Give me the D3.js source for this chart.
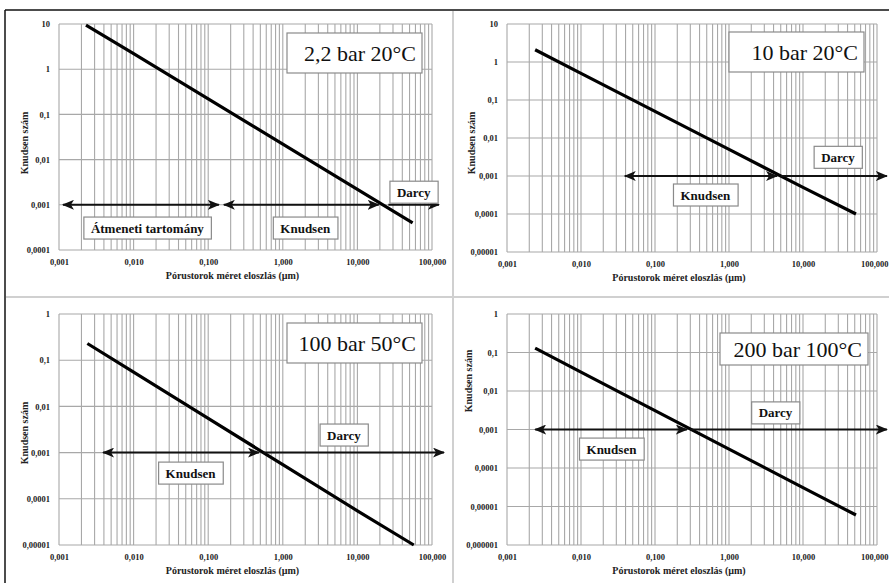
<!DOCTYPE html>
<html><head><meta charset="utf-8">
<script src="https://cdn.jsdelivr.net/npm/d3@7"></script>
<style>
body{margin:0;background:#fff;}
svg{display:block;}
svg text{font-family:"Liberation Serif","DejaVu Serif",serif;}
</style></head>
<body><svg id="chart" width="889" height="583"></svg>
<script>
// ---------- DATA ----------
const xTickValues = [0.001, 0.01, 0.1, 1, 10, 100];
const xTickLabels = ["0,001", "0,010", "0,100", "1,000", "10,000", "100,000"];
const xAxisTitle = "Pórustorok méret eloszlás  (µm)";
const yAxisTitle = "Knudsen szám";

const titles = ["2,2 bar 20°C", "10 bar 20°C", "100 bar 50°C", "200 bar 100°C"];

const yDomain1 = [0.0001, 10];
const yDomain2 = [0.00001, 10];
const yDomain3 = [0.00001, 1];
const yDomain4 = [0.000001, 1];

const yTicks1 = [10, 1, 0.1, 0.01, 0.001, 0.0001];
const yTickLabels1 = ["10", "1", "0,1", "0,01", "0,001", "0,0001"];
const yTicks2 = [10, 1, 0.1, 0.01, 0.001, 0.0001, 0.00001];
const yTickLabels2 = ["10", "1", "0,1", "0,01", "0,001", "0,0001", "0,00001"];
const yTicks3 = [1, 0.1, 0.01, 0.001, 0.0001, 0.00001];
const yTickLabels3 = ["1", "0,1", "0,01", "0,001", "0,0001", "0,00001"];
const yTicks4 = [1, 0.1, 0.01, 0.001, 0.0001, 0.00001, 0.000001];
const yTickLabels4 = ["1", "0,1", "0,01", "0,001", "0,0001", "0,00001", "0,000001"];

// Knudsen number vs pore size
const poreSize1 = [0.0023, 0.01, 0.1, 1, 10, 55];
const knudsen1  = [9.5, 2.2, 0.22, 0.022, 0.0022, 0.0004];
const poreSize2 = [0.0024, 0.01, 0.1, 1, 10, 52];
const knudsen2  = [2.1, 0.5, 0.05, 0.005, 0.0005, 0.0001];
const poreSize3 = [0.0024, 0.01, 0.1, 1, 10, 57];
const knudsen3  = [0.23, 0.055, 0.0055, 0.00055, 0.000055, 0.00001];
const poreSize4 = [0.0024, 0.01, 0.1, 1, 10, 52];
const knudsen4  = [0.13, 0.031, 0.0031, 0.00031, 0.000031, 0.000006];

// flow regime ranges at Kn = 0.001: [label, from, to, double-headed]
const arrowLevel = 0.001;
const regimes1 = [["Átmeneti tartomány", 0.00113, 0.139, true], ["Knudsen", 0.162, 19.3, true], ["Darcy", 26, 124, false]];
const regimes2 = [["Knudsen", 0.039, 4.46, true], ["Darcy", 5, 136, false]];
const regimes3 = [["Knudsen", 0.0039, 0.48, true], ["Darcy", 0.55, 145, false]];
const regimes4 = [["Knudsen", 0.0024, 0.27, true], ["Darcy", 0.3, 136, false]];

// regime label anchors (data coordinates): [label, x, y]
const regimeLabels1 = [["Átmeneti tartomány", 0.0153, 0.000306], ["Knudsen", 2.0, 0.000306], ["Darcy", 57, 0.0019]];
const regimeLabels2 = [["Knudsen", 0.48, 0.000316], ["Darcy", 29.7, 0.0031]];
const regimeLabels3 = [["Knudsen", 0.058, 0.00036], ["Darcy", 6.6, 0.0024]];
const regimeLabels4 = [["Knudsen", 0.0258, 0.00031], ["Darcy", 4.25, 0.0027]];

// ---------- LAYOUT ----------
const layouts = [
  {left:59,  right:432, top:24,  bottom:250, tb:{x:287,y:33, w:135,h:40}, yt:{x:24, y:143}},
  {left:507, right:877, top:24,  bottom:252, tb:{x:729,y:32, w:135,h:40}, yt:{x:471,y:143}},
  {left:59,  right:432, top:314, bottom:545, tb:{x:287,y:323,w:135,h:40}, yt:{x:24, y:433}},
  {left:507, right:877, top:314, bottom:545, tb:{x:720,y:333,w:148,h:32}, yt:{x:468,y:381}}
];

const panels = [
  {x:poreSize1, y:knudsen1, yd:yDomain1, yt:yTicks1, ytl:yTickLabels1, reg:regimes1, lab:regimeLabels1},
  {x:poreSize2, y:knudsen2, yd:yDomain2, yt:yTicks2, ytl:yTickLabels2, reg:regimes2, lab:regimeLabels2},
  {x:poreSize3, y:knudsen3, yd:yDomain3, yt:yTicks3, ytl:yTickLabels3, reg:regimes3, lab:regimeLabels3},
  {x:poreSize4, y:knudsen4, yd:yDomain4, yt:yTicks4, ytl:yTickLabels4, reg:regimes4, lab:regimeLabels4}
];

const FONT = '"Liberation Serif","DejaVu Serif",serif';
const svg = d3.select("#chart");
const defs = svg.append("defs");
defs.append("marker").attr("id","ah").attr("viewBox","0 0 12 10")
  .attr("refX",11).attr("refY",5).attr("markerWidth",12).attr("markerHeight",10)
  .attr("markerUnits","userSpaceOnUse").attr("orient","auto-start-reverse")
  .append("path").attr("d","M0,0 L12,5 L0,10 L3,5 Z").attr("fill","#111");

// frame & dividers
svg.append("line").attr("x1",5).attr("x2",889).attr("y1",10).attr("y2",10).attr("stroke","#111").attr("stroke-width",1.5);
svg.append("line").attr("x1",5).attr("x2",5).attr("y1",10).attr("y2",583).attr("stroke","#111").attr("stroke-width",1.5);
svg.append("line").attr("x1",453).attr("x2",453).attr("y1",11).attr("y2",583).attr("stroke","#d0d0d0").attr("stroke-width",2);
svg.append("line").attr("x1",6).attr("x2",889).attr("y1",297).attr("y2",297).attr("stroke","#d0d0d0").attr("stroke-width",2);

panels.forEach((p, i) => {
  const L = layouts[i];
  const g = svg.append("g");
  const x = d3.scaleLog().domain([0.001, 100]).range([L.left, L.right]);
  const y = d3.scaleLog().domain(p.yd).range([L.bottom, L.top]);

  // vertical grid (major + minor)
  const xGrid = x.ticks();
  g.append("g").selectAll("line").data(xGrid).join("line")
    .attr("x1", d => x(d)).attr("x2", d => x(d))
    .attr("y1", L.top).attr("y2", L.bottom)
    .attr("stroke", "#a8a8a8").attr("stroke-width", 1.1);
  // horizontal grid at decades
  g.append("g").selectAll("line").data(p.yt).join("line")
    .attr("x1", L.left).attr("x2", L.right)
    .attr("y1", d => y(d)).attr("y2", d => y(d))
    .attr("stroke", "#a8a8a8").attr("stroke-width", 1.1);

  // x axis labels
  const xa = d3.axisBottom(x).tickValues(xTickValues).tickFormat((d, k) => xTickLabels[k]).tickSize(0).tickPadding(9);
  const xg = g.append("g").attr("transform", `translate(0,${L.bottom})`).call(xa);
  xg.select(".domain").remove();
  xg.selectAll("text").attr("font-family", FONT).attr("font-weight", "bold").attr("font-size", 8.5).attr("fill", "#222");
  // keep the last label inside the window
  xg.selectAll(".tick:last-of-type text").attr("text-anchor", L.right > 850 ? "end" : "middle")
    .attr("dx", L.right > 850 ? 11 : 0);

  const ya = d3.axisLeft(y).tickValues(p.yt).tickFormat((d, k) => p.ytl[k]).tickSize(0).tickPadding(9);
  const yg = g.append("g").attr("transform", `translate(${L.left},0)`).call(ya);
  yg.select(".domain").remove();
  yg.selectAll("text").attr("font-family", FONT).attr("font-weight", "bold").attr("font-size", 8.5).attr("fill", "#222");

  // axis titles
  g.append("text").attr("x", (L.left + L.right) / 2 - 13).attr("y", L.bottom + 29)
    .attr("text-anchor", "middle").attr("font-family", FONT).attr("font-weight", "bold").attr("font-size", 10).attr("fill", "#222")
    .text(xAxisTitle);
  g.append("text").attr("transform", `translate(${L.yt.x},${L.yt.y}) rotate(-90)`)
    .attr("text-anchor", "middle").attr("dominant-baseline", "central")
    .attr("font-family", FONT).attr("font-weight", "bold").attr("font-size", 10).attr("fill", "#222")
    .text(yAxisTitle);

  // main line
  const pts = p.x.map((v, k) => [v, p.y[k]]);
  g.append("path").datum(pts)
    .attr("d", d3.line().x(d => x(d[0])).y(d => y(d[1])))
    .attr("fill", "none").attr("stroke", "#000").attr("stroke-width", 3.2);

  // regime arrows
  p.reg.forEach(r => {
    g.append("line").attr("x1", x(r[1])).attr("x2", x(r[2]))
      .attr("y1", y(arrowLevel)).attr("y2", y(arrowLevel))
      .attr("stroke", "#111").attr("stroke-width", 2)
      .attr("marker-end", "url(#ah)")
      .attr("marker-start", r[3] ? "url(#ah)" : null);
  });

  // regime labels in boxes
  p.lab.forEach(l => {
    const lg = g.append("g");
    const t = lg.append("text").attr("x", x(l[1])).attr("y", y(l[2]))
      .attr("text-anchor", "middle").attr("dominant-baseline", "central")
      .attr("font-family", FONT).attr("font-weight", "bold").attr("font-size", 13).attr("fill", "#111").text(l[0]);
    const bb = t.node().getBBox();
    lg.insert("rect", "text").attr("x", bb.x - 7).attr("y", y(l[2]) - 11)
      .attr("width", bb.width + 14).attr("height", 22)
      .attr("fill", "#fff").attr("stroke", "#8a8a8a").attr("stroke-width", 1.2);
  });

  // title box
  g.append("rect").attr("x", L.tb.x).attr("y", L.tb.y).attr("width", L.tb.w).attr("height", L.tb.h)
    .attr("fill", "#fff").attr("stroke", "#8a8a8a").attr("stroke-width", 1.2);
  g.append("text").attr("x", L.tb.x + L.tb.w - 6).attr("y", L.tb.y + L.tb.h / 2)
    .attr("text-anchor", "end").attr("dominant-baseline", "central")
    .attr("font-family", FONT).attr("font-size", 22).attr("fill", "#111").text(titles[i]);
});
</script></body></html>
